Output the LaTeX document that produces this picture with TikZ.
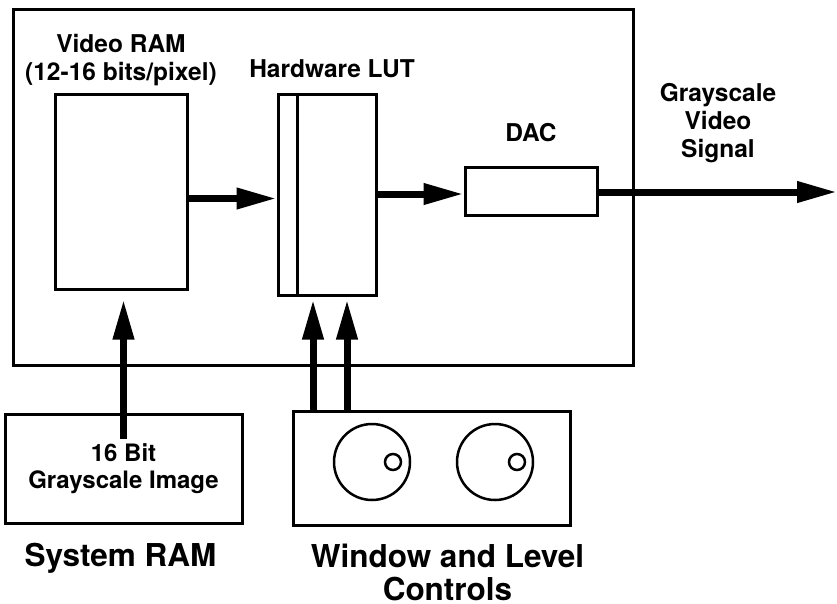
\documentclass[tikz,border=0pt]{standalone}
\usepackage{fontspec}
\newfontfamily\helv{TeX Gyre Heros}
\usepackage{tikz}
\usetikzlibrary{arrows.meta, positioning, calc}
\tikzset{
  blk/.style={draw, line width=3pt, inner sep=0pt, fill=white},
  knob/.style={draw, circle, line width=2.5pt, inner sep=0pt},
  lbl/.style={font=\helv\bfseries\fontsize{24.5}{28}\selectfont, align=center, inner sep=0pt},
  inlbl/.style={font=\helv\bfseries\fontsize{24}{27}\selectfont, align=center, inner sep=0pt},
  biglbl/.style={font=\helv\bfseries\fontsize{31.5}{33}\selectfont, align=center, inner sep=0pt},
  fatarr/.style={-{Triangle[length=40pt, width=20pt]}, line width=7pt},
}
\begin{document}
\begin{tikzpicture}[x=1pt, y=-1pt]
  \useasboundingbox (0,0) rectangle (837,603);
  % video board
  \node[blk, minimum width=620pt, minimum height=356pt] (board) at (323,187) {};
  \node[blk, minimum width=132pt, minimum height=195pt] (vram) at (121,191.5) {};
  \node[blk, minimum width=98pt,  minimum height=201pt] (lut)  at (327,194.5) {};
  \node[blk, minimum width=132pt, minimum height=48pt]  (dac)  at (531,191) {};
  \draw[line width=3pt] ([xshift=21pt]lut.north west) -- ([xshift=21pt]lut.south west);

  \node[lbl] (vramlbl) at ([yshift=32pt]vram.north) {Video RAM\\(12-16 bits/pixel)};
  \node[lbl] (lutlbl)  at ([xshift=5pt, yshift=24pt]lut.north) {Hardware LUT};
  \node[lbl] (daclbl)  at ([yshift=33pt]dac.north) {DAC};
  \node[lbl, inner sep=0pt] (siglbl) at (718,123) {Grayscale\\Video\\Signal};
  \coordinate (out) at (837,192);

  % outside the board
  \node[blk, minimum width=237pt, minimum height=109pt,
        inlbl] (sysram) at (123.5,468.5) {16 Bit\\Grayscale Image};
  \node[blk, minimum width=277pt, minimum height=114pt] (wl) at (431.5,468) {};
  \node[knob, minimum size=76pt] (win) at (372,462) {};
  \node[knob, minimum size=76pt] (lev) at (495,462) {};
  \node[knob, minimum size=16pt] (windot) at (393,462) {};
  \node[knob, minimum size=16pt] (levdot) at (517,462) {};

  \node[biglbl] (syslbl) at ([xshift=-3pt, yshift=-34pt]sysram.south) {System RAM};
  \node[biglbl] (wllbl)  at ([xshift=16pt, yshift=-46pt]wl.south) {Window and Level\\Controls};

  % data paths
  \coordinate (imgsrc) at ([yshift=-26pt]sysram.north);
  \draw[fatarr, shorten >=9pt] (imgsrc) -- (imgsrc |- vram.south);
  \draw[fatarr] ([yshift=-7pt]vram.east) -- ([yshift=-7pt]vram.east -| lut.west);
  \draw[fatarr] (lut.east |- 0,194) -- (dac.west |- 0,194);
  \draw[fatarr] (dac.east |- out) -- (out);
  \draw[fatarr, shorten >=3pt] ([xshift=-118.5pt]wl.north) -- ([xshift=-118.5pt]wl.north |- lut.south);
  \draw[fatarr, shorten >=3pt] ([xshift=-84.5pt]wl.north)  -- ([xshift=-84.5pt]wl.north |- lut.south);
\end{tikzpicture}
\end{document}
